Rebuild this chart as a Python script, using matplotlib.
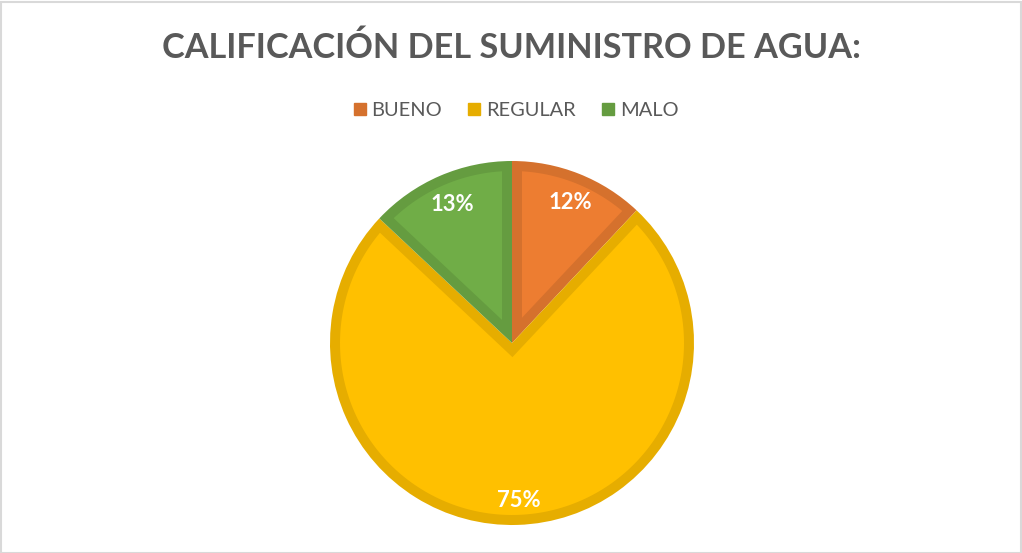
"""Pie chart: calificación del suministro de agua (bueno / regular / malo)."""
import numpy as np
import matplotlib
matplotlib.use("Agg")
import matplotlib.pyplot as plt
from matplotlib.lines import Line2D
from matplotlib.patches import Polygon, Rectangle

categories = ["BUENO", "REGULAR", "MALO"]
values = [12, 75, 13]
title = "CALIFICACIÓN DEL SUMINISTRO DE AGUA:"

FILL = ["#ED7D31", "#FFC000", "#70AD47"]
EDGE = ["#D5712D", "#E6AD00", "#659C40"]
TEXT = "#595959"

W, H, DPI = 1022, 553, 100
PX = 72 / DPI  # points per pixel
RING = 10      # width of the darker inner border, px


def inset_wedge(center, radius, t1, t2, d):
    """Polygon of a wedge (t1..t2 degrees, ccw) shrunk inwards by d."""
    a1, a2 = np.radians(t1), np.radians(t2)
    half = (a2 - a1) / 2
    mid = a1 + half
    c = np.asarray(center, float)
    tip = c + d / np.sin(half) * np.array([np.cos(mid), np.sin(mid)])
    rho = radius - d
    off = np.arcsin(d / rho)
    arc = np.linspace(a1 + off, a2 - off, 200)
    pts = np.column_stack([c[0] + rho * np.cos(arc), c[1] + rho * np.sin(arc)])
    return np.vstack([tip, pts])


plt.rcParams["font.family"] = ["Lato", "DejaVu Sans"]

fig = plt.figure(figsize=(W / DPI, H / DPI), dpi=DPI)
fig.patch.set_facecolor("white")
ax = fig.add_axes([0, 0, 1, 1])

cx, cy, r = 512, H - 343, 182
wedges, _, autotexts = ax.pie(
    values, colors=EDGE, startangle=90, counterclock=False,
    center=(cx, cy), radius=r, autopct="%1.0f%%", pctdistance=0.85,
    frame=True, wedgeprops=dict(linewidth=0),
    textprops=dict(color="white", fontsize=22 * PX, fontweight="bold",
                   zorder=5),
)
for w, fc in zip(wedges, FILL):
    ax.add_patch(Polygon(inset_wedge(w.center, w.r, w.theta1, w.theta2, RING),
                         closed=True, facecolor=fc, edgecolor="none", zorder=2))
for t in autotexts:
    x, y = t.get_position()
    t.set_position((x + 1.5, y - 3))
ax.set_xlim(0, W)
ax.set_ylim(0, H)
ax.set_aspect("equal")
ax.axis("off")

ax.text(W / 2, H - 48, title, ha="center", va="center",
        fontsize=34.3 * PX, fontweight="bold", color=TEXT)

handles = [Line2D([], [], marker="s", linestyle="none", markersize=12 * PX,
                  markerfacecolor=ec, markeredgecolor=ec) for ec in EDGE]
fig.legend(handles, categories, loc="center",
           bbox_to_anchor=(515 / W, 1 - 110.5 / H),
           ncol=3, frameon=False, fontsize=20 * PX, labelcolor=TEXT,
           handletextpad=0.2, columnspacing=1.2, handlelength=0.8)

fig.add_artist(Rectangle((0.5 / W, 0.5 / H), 1 - 1.5 / W, 1 - 2.5 / H,
                         transform=fig.transFigure, fill=False,
                         edgecolor="#D9D9D9", linewidth=1.5))

fig.savefig("out.png", dpi=DPI, facecolor="white")
